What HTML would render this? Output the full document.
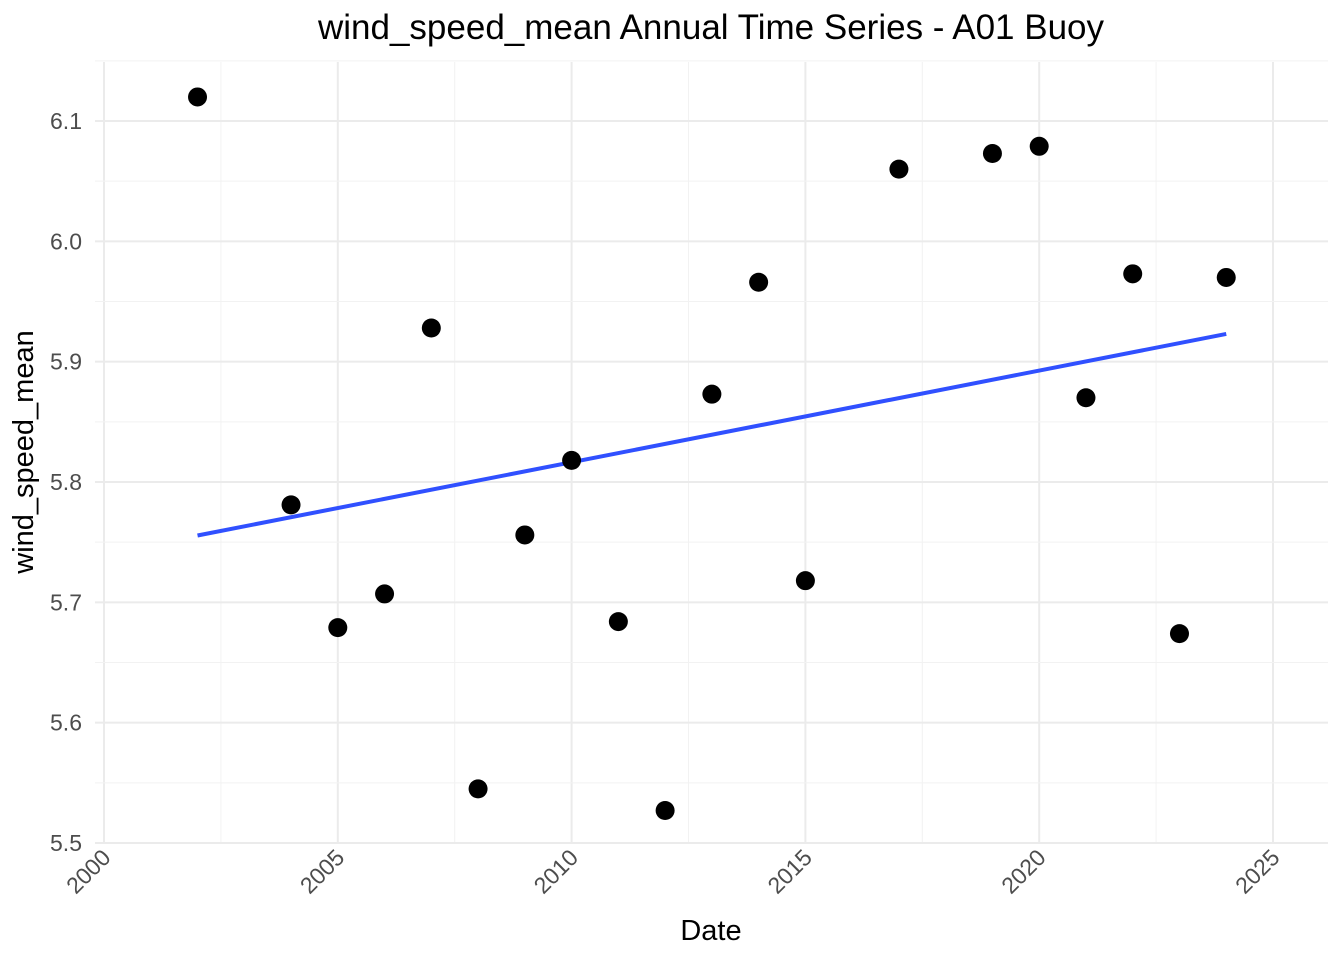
<!DOCTYPE html>
<html><head><meta charset="utf-8"><style>
body{margin:0;background:#fff;}
svg{display:block;font-family:"Liberation Sans",Arial,sans-serif;}
</style></head><body>
<svg id="chart" width="1344" height="960">
<text x="711" y="39" text-anchor="middle" font-size="35" fill="#000">wind_speed_mean Annual Time Series - A01 Buoy</text>
<g id="grid"></g><g id="axes"></g><g id="marks"></g>
<text x="711" y="940" text-anchor="middle" font-size="29" fill="#000">Date</text>
<text transform="translate(33,452) rotate(-90)" text-anchor="middle" font-size="29" fill="#000">wind_speed_mean</text>
</svg>
<script>
const years=[2002,2004,2005,2006,2007,2008,2009,2010,2011,2012,2013,2014,2015,2017,2019,2020,2021,2022,2023,2024];
const values=[6.120,5.781,5.679,5.707,5.928,5.545,5.756,5.818,5.684,5.527,5.873,5.966,5.718,6.060,6.073,6.079,5.870,5.973,5.674,5.970];
const xTicks=[2000,2005,2010,2015,2020,2025];
const yTicks=[5.5,5.6,5.7,5.8,5.9,6.0,6.1];
const NS="http://www.w3.org/2000/svg";
const PL=95,PR=1328,PT=62,PB=843;
function sx(v){return 104+(v-2000)*(1169/25);}
function sy(v){return 843-(v-5.5)*1203.3;}
function mk(tag,attrs,parent){const e=document.createElementNS(NS,tag);for(const k in attrs)e.setAttribute(k,attrs[k]);document.getElementById(parent).appendChild(e);return e;}
for(let i=0;i<xTicks.length;i++){
  const x=sx(xTicks[i]);
  const g=mk('line',{x1:x,x2:x,y1:PT,y2:PB,stroke:'#ebebeb','stroke-width':2},'grid');
  
  
  if(i<xTicks.length-1){const xm=sx(xTicks[i]+2.5);
    const m=mk('line',{x1:xm,x2:xm,y1:PT,y2:PB,stroke:'#f2f2f2','stroke-width':1},'grid');
    
    }
  const t=mk('text',{transform:`translate(${x+8},${PB+16}) rotate(-45)`,'text-anchor':'end','font-size':23,fill:'#4d4d4d'},'axes');
  t.textContent=xTicks[i];
  
  
}
for(let i=0;i<yTicks.length;i++){
  const y=sy(yTicks[i]);
  const g=mk('line',{x1:PL,x2:PR,y1:y,y2:y,stroke:'#ebebeb','stroke-width':2},'grid');
  
  
  if(i<yTicks.length-1){const ym=sy(yTicks[i]+0.05);
    const m=mk('line',{x1:PL,x2:PR,y1:ym,y2:ym,stroke:'#f2f2f2','stroke-width':1},'grid');
    
    }
  const t=mk('text',{x:82,y:y+8,'text-anchor':'end','font-size':23,fill:'#4d4d4d'},'axes');
  t.textContent=yTicks[i].toFixed(1);
  
  
}
{const ym=sy(6.15);const m=mk('line',{x1:PL,x2:PR,y1:ym,y2:ym,stroke:'#f2f2f2','stroke-width':1},'grid');

}
const n=years.length;let mx=0,my=0;for(let i=0;i<n;i++){mx+=years[i];my+=values[i];}mx/=n;my/=n;
let sxy=0,sxx=0;for(let i=0;i<n;i++){sxy+=(years[i]-mx)*(values[i]-my);sxx+=(years[i]-mx)**2;}
const b=sxy/sxx,a=my-b*mx;
const x0=Math.min(...years),x1=Math.max(...years);
const ln=mk('line',{x1:sx(x0),y1:sy(a+b*x0),x2:sx(x1),y2:sy(a+b*x1),stroke:'#3050ff','stroke-width':4},'marks');


for(let i=0;i<n;i++){
  const c=mk('circle',{cx:sx(years[i]),cy:sy(values[i]),r:9.5,fill:'#000'},'marks');
  
  
}
</script>
</body></html>
